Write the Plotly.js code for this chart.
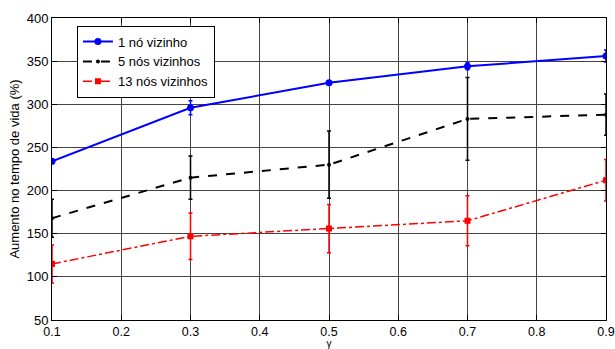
<!DOCTYPE html>
<html><head><meta charset="utf-8">
<script src="https://cdn.plot.ly/plotly-3.0.1.min.js"></script>
<style>body{margin:0;background:#fff}#c{width:615px;height:349px}</style>
</head><body><div id="c"></div>
<script>
const gamma = [0.1, 0.3, 0.5, 0.7, 0.9];
const names = ["1 nó vizinho", "5 nós vizinhos", "13 nós vizinhos"];
const v1 = [234, 296, 325, 344, 356];
const e1 = [3, 8, 2, 4, 7];
const v5 = [168, 215, 230, 283, 288];
const e5 = [22, 25, 39, 48, 24];
const v13 = [115, 147, 156, 165, 212];
const e13 = [22, 27, 28, 29, 24];
const yTicks = [50, 100, 150, 200, 250, 300, 350, 400];
const xTicks = [0.1, 0.2, 0.3, 0.4, 0.5, 0.6, 0.7, 0.8, 0.9];

const font = {family: "Liberation Sans, Arial, sans-serif", color: "#000"};
function tr(v, e, name, color, dash, width, sym, size) {
  return {x: gamma, y: v, name: name, type: "scatter", mode: "lines+markers",
    line: {color: color, dash: dash, width: width},
    marker: {color: color, symbol: sym, size: size},
    error_y: {type: "data", array: e, visible: true, color: color, thickness: 1.5, width: 2}};
}
const data = [
  tr(v1, e1, names[0], "#0000ff", "solid", 2, "circle", 7),
  tr(v5, e5, names[1], "#000000", "dash", 2, "circle", 4),
  tr(v13, e13, names[2], "#ff0000", "dashdot", 1.5, "square", 6)
];
const ax = {showline: true, mirror: "ticks", linecolor: "#000", linewidth: 1,
  ticks: "inside", ticklen: 5, tickcolor: "#000", showgrid: true, gridcolor: "#444", gridwidth: 1,
  zeroline: false, tickfont: Object.assign({size: 13}, font), ticklabeloverflow: "allow"};
const layout = {
  width: 615, height: 349, margin: {l: 52, r: 9, t: 18, b: 29},
  paper_bgcolor: "#fff", plot_bgcolor: "#fff", font: font,
  xaxis: Object.assign({}, ax, {range: [0.1, 0.9], tickvals: xTicks, ticktext: xTicks.map(String),
    ticklabelstandoff: 0, tickfont: Object.assign({size: 12.5}, font),
    title: {text: "γ", font: Object.assign({size: 10}, font), standoff: 3}}),
  yaxis: Object.assign({}, ax, {range: [50, 400], tickvals: yTicks,
    title: {text: "Aumento no tempo de vida (%)", font: Object.assign({size: 13}, font), standoff: 4}}),
  legend: {x: 0.045, y: 0.975, xanchor: "left", yanchor: "top", bgcolor: "#fff",
    bordercolor: "#000", borderwidth: 1, font: Object.assign({size: 13}, font),
    tracegroupgap: 0, itemwidth: 30},
  showlegend: true
};
Plotly.newPlot("c", data, layout, {displayModeBar: false, staticPlot: true});
</script></body></html>
